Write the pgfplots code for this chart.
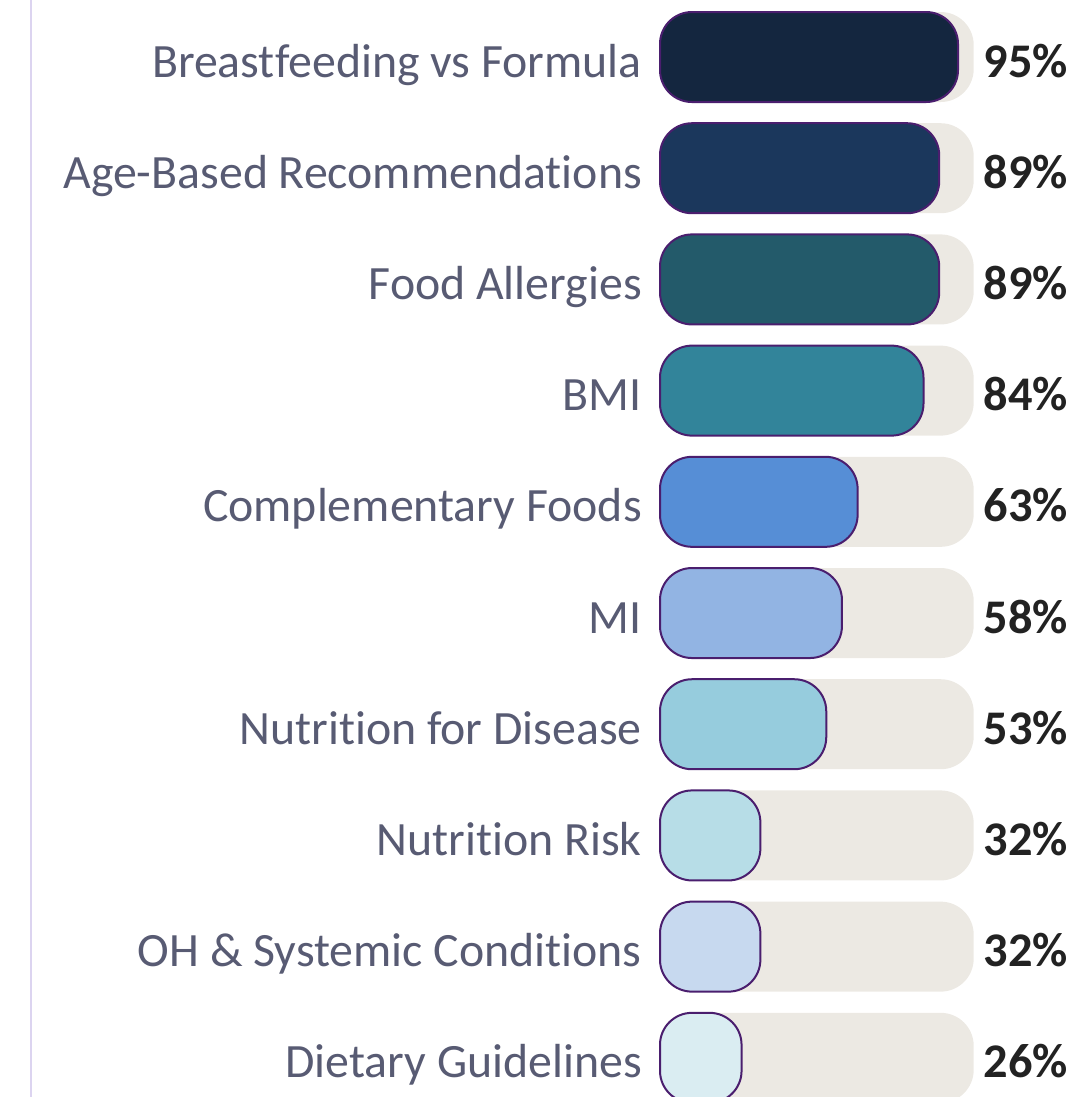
\documentclass[border=0pt]{standalone}
\usepackage{pgfplots}
\usepackage{pgfplotstable}
\pgfplotsset{compat=1.18}
\usepackage{fontspec}
\setmainfont{Carlito}[Ligatures={NoCommon}]
\definecolor{c1}{HTML}{14263F}
\definecolor{c2}{HTML}{1B375C}
\definecolor{c3}{HTML}{235A6A}
\definecolor{c4}{HTML}{32849A}
\definecolor{c5}{HTML}{568ED6}
\definecolor{c6}{HTML}{92B4E3}
\definecolor{c7}{HTML}{96CCDD}
\definecolor{c8}{HTML}{B7DDE7}
\definecolor{c9}{HTML}{C7D9EF}
\definecolor{c10}{HTML}{DAEDF2}
\definecolor{edgec}{HTML}{4A1E6E}
\definecolor{trackc}{HTML}{ECE9E3}
\definecolor{labc}{HTML}{585B73}
\definecolor{valc}{HTML}{222222}
\definecolor{linec}{HTML}{DCD4F0}
\pgfplotstableread{
y track val
0 100 95
1 100 89
2 100 89
3 100 84
4 100 63
5 100 58
6 100 53
7 100 32
8 100 32
9 100 26
}\tracks
\begin{document}
\begin{tikzpicture}
\path[use as bounding box, clip] (0bp,0bp) rectangle (1087bp,-1097bp);
\begin{axis}[
  at={(660bp,-1.4bp)}, anchor=north west,
  scale only axis, width=313.7bp, height=1112bp,
  xmin=0, xmax=100, ymin=-0.5, ymax=9.5,
  y dir=reverse,
  axis line style={draw=none},
  major tick length=0pt,
  xtick=\empty,
  ytick={0,...,9},
  yticklabels={Breastfeeding vs Formula, Age-Based Recommendations, Food Allergies, BMI, Complementary Foods, MI, Nutrition for Disease, Nutrition Risk, OH \& Systemic Conditions, Dietary Guidelines},
  yticklabel style={font=\fontsize{48}{52}\selectfont, text=labc, inner sep=0pt, anchor=base east, xshift=-18bp, yshift=-20bp},
  xbar, bar width=90bp, bar shift=0pt,
  clip=false,
]
\addplot[fill=trackc, draw=none, rounded corners=33bp,
  point meta=explicit symbolic,
  nodes near coords={\pgfplotspointmeta\%},
  every node near coord/.style={anchor=base west, inner sep=0pt, xshift=10bp, yshift=-20bp, font=\fontsize{48.5}{52}\selectfont\bfseries, text=valc}]
  table[x=track, y=y, meta=val] {\tracks};
\addplot[fill=c1, draw=edgec, line width=2bp, rounded corners=32bp] coordinates {(95,0)};
\addplot[fill=c2, draw=edgec, line width=2bp, rounded corners=32bp] coordinates {(89,1)};
\addplot[fill=c3, draw=edgec, line width=2bp, rounded corners=32bp] coordinates {(89,2)};
\addplot[fill=c4, draw=edgec, line width=2bp, rounded corners=32bp] coordinates {(84,3)};
\addplot[fill=c5, draw=edgec, line width=2bp, rounded corners=32bp] coordinates {(63,4)};
\addplot[fill=c6, draw=edgec, line width=2bp, rounded corners=32bp] coordinates {(58,5)};
\addplot[fill=c7, draw=edgec, line width=2bp, rounded corners=32bp] coordinates {(53,6)};
\addplot[fill=c8, draw=edgec, line width=2bp, rounded corners=32bp] coordinates {(32,7)};
\addplot[fill=c9, draw=edgec, line width=2bp, rounded corners=32bp] coordinates {(32,8)};
\addplot[fill=c10, draw=edgec, line width=2bp, rounded corners=32bp] coordinates {(26,9)};
\end{axis}
\draw[linec, line width=2bp] (31bp,0bp) -- (31bp,-1097bp);
\end{tikzpicture}
\end{document}
